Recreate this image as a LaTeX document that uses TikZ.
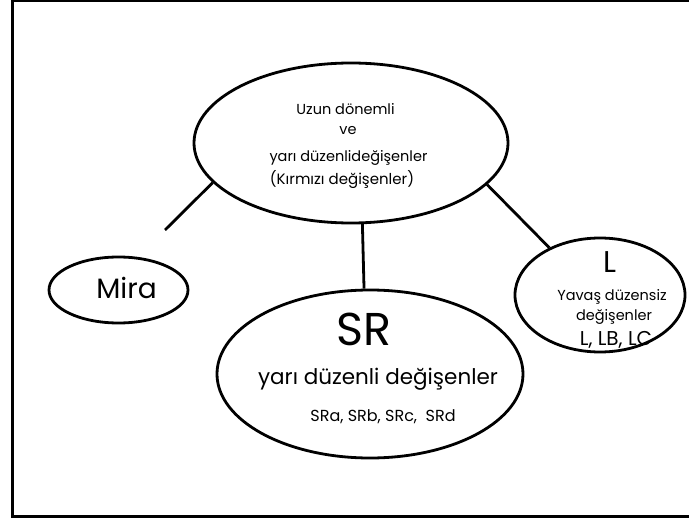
\documentclass[tikz,border=0pt]{standalone}
\usepackage{fontspec}
\setmainfont{Poppins}
\usetikzlibrary{shapes.geometric}
\newcommand{\ovalNode}[6][]{
	\path (#2,#3) node[draw, ellipse, inner sep=0pt, minimum width=#4, minimum height=#5, #1](#6){};
}
\newcommand{\ovalText}[5][]{
	\path (#2,#3) node[anchor=base, inner sep=0pt, #1](#4){#5};
}
\newcommand{\edge}[3][]{
	\draw[#1] (#2) -- (#3);
}
\newcommand{\fs}[1]{\fontsize{#1}{#1}\selectfont}

\begin{document}
\begin{tikzpicture}[x=1pt, y=-1pt, line width=2.8pt]
	\useasboundingbox (0,0) rectangle (689,519);
	\draw[line width=3pt] (700,1) -- (12.5,1) -- (12.5,516) -- (700,516);

	\ovalNode{351}{143}{314pt}{160pt}{long};
	\ovalNode{118.5}{290}{139pt}{66pt}{mira};
	\ovalNode{370}{374}{306pt}{168pt}{sr};
	\ovalNode{600}{295}{170pt}{114pt}{slow};

	\ovalText[font=\fs{14.5}]{345.5}{115}{uzun}{Uzun dönemli};
	\ovalText[font=\fs{14.5}]{348}{135}{ve}{ve};
	\ovalText[font=\fs{14.5}]{348.5}{161}{yari}{yarı düzenlideğişenler};
	\ovalText[font=\fs{15}]{342}{184}{kirmizi}{(Kırmızı değişenler)};

	\ovalText[font=\fs{28}]{126.5}{298}{miraT}{Mira};

	\ovalText[font=\fs{46}]{364}{345}{srT}{SR};
	\ovalText[font=\fs{21.5}]{378}{384}{srYari}{yarı düzenli değişenler};
	\ovalText[font=\fs{16}]{383}{421}{srList}{SRa, SRb, SRc,\ \ SRd};

	\ovalText[font=\fs{30}]{610}{272}{slowT}{L};
	\ovalText[font=\fs{14.5}]{612}{300}{yavas}{Yavaş düzensiz};
	\ovalText[font=\fs{14.5}]{614}{320}{degisen}{değişenler};
	\ovalText[font=\fs{20}]{616}{345}{slowList}{L, LB, LC};

	\coordinate (miraEnd) at (165,230);
	\edge{long.196}{miraEnd};
	\edge{long.278}{sr.94};
	\edge{long.343.5}{slow.137};
\end{tikzpicture}
\end{document}
